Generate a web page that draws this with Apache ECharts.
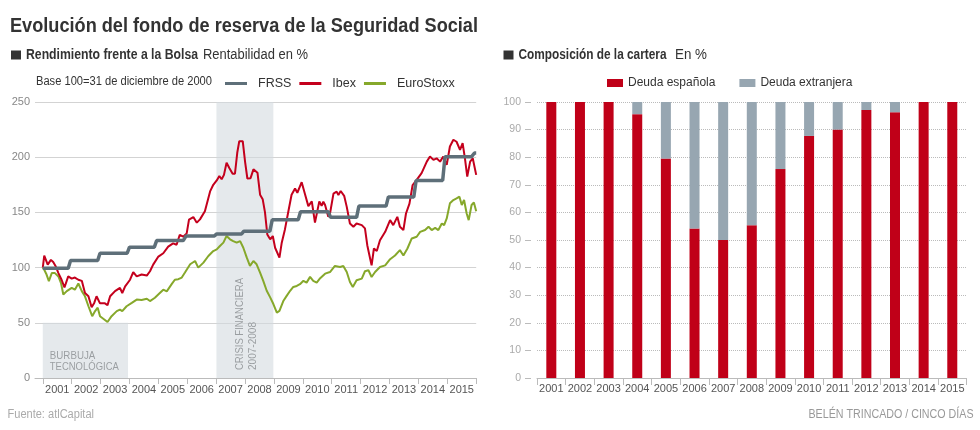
<!DOCTYPE html>
<html>
<head>
<meta charset="utf-8">
<script src="https://cdn.jsdelivr.net/npm/echarts@6/dist/echarts.min.js"></script>
<style>
  html, body { margin: 0; padding: 0; background: #fff; }
  #main { width: 980px; height: 430px; }
</style>
</head>
<body>
<div id="main"></div>
<script>
var FONT = "'Liberation Sans', Arial, sans-serif";

// años del eje x (ambos gráficos)
var years = ['2001','2002','2003','2004','2005','2006','2007','2008','2009','2010','2011','2012','2013','2014','2015'];

// base 100 = 31/12/2000, [año decimal, valor]
var frss = [
  [2001.0,99.5],[2001.88,99.5],[2001.96,106.5],[2002.9,106.5],[2002.98,113],[2003.92,113],
  [2004.0,118.5],[2004.86,118.5],[2004.94,124.5],[2005.86,124.5],[2005.96,128.7],[2006.94,128.7],
  [2007.02,130.5],[2007.88,130.5],[2007.96,133],[2008.86,133],[2008.94,143.3],[2009.84,143.3],
  [2009.92,150.6],[2010.88,150.6],[2010.96,145.5],[2011.86,145.5],[2011.94,155.7],[2012.88,155.7],
  [2012.96,164],[2013.84,164],[2013.92,179],[2014.84,179],[2014.92,200.5],[2015.84,200.5],
  [2015.94,203.8],[2016.0,203.8]
];

var ibex = [
  [2001.0,100],[2001.05,110.8],[2001.17,102.7],[2001.28,107],[2001.36,105],[2001.45,101],
  [2001.54,95],[2001.65,89],[2001.75,82],[2001.88,92],[2002.0,90],[2002.11,91],[2002.23,89],
  [2002.35,88],[2002.46,77],[2002.58,74],[2002.69,64],[2002.78,68],[2002.86,74],[2002.98,67.6],
  [2003.15,67.6],[2003.24,66],[2003.33,74],[2003.5,78.7],[2003.67,81.7],[2003.75,77],[2003.85,83],
  [2004.02,89],[2004.13,96],[2004.25,92],[2004.42,93.7],[2004.6,92.8],[2004.71,96.7],[2004.82,102.7],
  [2005.0,110],[2005.17,113],[2005.34,119],[2005.51,122],[2005.63,120.7],[2005.74,129.7],
  [2005.86,128],[2005.98,131],[2006.06,143.5],[2006.21,145.8],[2006.33,140.7],[2006.44,143.7],
  [2006.61,151],[2006.79,169],[2006.9,175],[2007.02,179],[2007.11,183],[2007.19,180],[2007.27,184],
  [2007.36,195],[2007.46,190],[2007.57,185],[2007.65,185],[2007.73,204],[2007.8,214.5],
  [2007.92,214.5],[2008.0,196],[2008.08,180.7],[2008.19,181],[2008.29,189],[2008.43,186],
  [2008.52,166],[2008.61,162],[2008.69,150],[2008.77,130],[2008.87,125.6],[2008.96,128.6],
  [2009.04,118],[2009.19,109],[2009.27,122.6],[2009.38,134.6],[2009.5,151],[2009.61,166],
  [2009.73,171.7],[2009.81,167.8],[2009.96,177.4],[2010.08,166],[2010.19,155.7],[2010.31,160],
  [2010.42,140.7],[2010.57,160],[2010.65,156],[2010.71,159.7],[2010.77,156.7],[2010.88,146],
  [2010.94,149],[2011.06,167],[2011.17,168.8],[2011.23,165.8],[2011.31,169.4],[2011.43,165],
  [2011.52,155],[2011.63,140],[2011.75,137],[2011.86,140],[2012.04,138.5],[2012.15,135.5],
  [2012.23,120.3],[2012.33,108],[2012.38,102],[2012.46,117.3],[2012.56,115],[2012.67,124.8],
  [2012.85,132.4],[2013.02,143],[2013.13,138.5],[2013.27,146],[2013.36,137],[2013.48,134],
  [2013.57,149],[2013.69,158],[2013.8,174.8],[2013.94,179.4],[2014.11,185.5],[2014.29,196],
  [2014.4,200.6],[2014.52,197.6],[2014.63,199],[2014.75,196],[2014.86,200.6],[2014.98,193],
  [2015.09,209.7],[2015.21,215.8],[2015.32,214],[2015.44,206.7],[2015.53,212.7],[2015.61,199],
  [2015.69,182.4],[2015.79,196],[2015.88,199],[2016.0,184]
];

var stoxx = [
  [2001.0,100],[2001.05,98],[2001.13,93.7],[2001.21,87.7],[2001.31,95],[2001.42,95],[2001.54,92],
  [2001.63,86],[2001.71,75.7],[2001.83,78.7],[2002.0,81.7],[2002.11,80],[2002.23,85.6],
  [2002.35,78.7],[2002.46,74],[2002.58,65],[2002.71,56],[2002.81,60.6],[2002.9,63.7],[2002.98,56],
  [2003.15,52.6],[2003.24,50.7],[2003.38,56],[2003.56,60.6],[2003.67,62],[2003.75,60.6],
  [2003.9,65],[2004.08,68],[2004.25,71],[2004.42,70.6],[2004.6,71.8],[2004.71,69.7],[2004.88,72.7],
  [2005.05,77],[2005.17,80],[2005.29,78.5],[2005.46,85],[2005.57,89],[2005.69,89.5],[2005.81,91],
  [2005.92,95.5],[2006.1,103],[2006.27,106],[2006.38,100],[2006.56,104.5],[2006.73,110.5],
  [2006.9,115],[2007.02,116.5],[2007.13,119.6],[2007.25,122.6],[2007.36,128.6],[2007.48,125.6],
  [2007.59,124],[2007.71,122.6],[2007.83,124],[2007.94,118],[2008.06,109],[2008.17,101.5],
  [2008.29,106],[2008.4,103],[2008.52,95.5],[2008.63,88],[2008.75,79],[2008.87,73],[2008.98,67],
  [2009.1,59.3],[2009.19,60.8],[2009.33,70],[2009.44,74.4],[2009.56,79],[2009.67,82.5],
  [2009.79,83.4],[2009.9,85],[2010.02,88],[2010.13,86.4],[2010.25,91.6],[2010.36,88],
  [2010.48,86.4],[2010.6,90.4],[2010.77,94.5],[2010.94,96],[2011.11,101.5],[2011.29,100.6],
  [2011.4,101.5],[2011.52,96],[2011.63,87],[2011.73,82.4],[2011.86,88.5],[2012.04,90],
  [2012.15,96.7],[2012.27,97.6],[2012.38,91.5],[2012.5,96],[2012.67,100.6],[2012.85,102],
  [2013.02,107.6],[2013.19,111],[2013.36,115.8],[2013.48,111],[2013.62,117.3],[2013.77,126.4],
  [2013.94,127.9],[2014.06,132.4],[2014.23,134],[2014.35,137],[2014.46,134],[2014.58,136],
  [2014.69,134],[2014.81,140],[2014.89,138.5],[2014.98,144.5],[2015.09,158.2],[2015.21,161.2],
  [2015.32,162.7],[2015.42,164.2],[2015.5,156.7],[2015.58,161.2],[2015.67,149],[2015.74,143],
  [2015.84,156.7],[2015.92,159],[2016.0,151]
];

// composicion de la cartera, en %
var deudaEsp = [100,100,100,95.6,79.5,54.2,50,55.3,75.7,87.7,90,97.1,96.3,100,100];
var deudaExt = [0,0,0,4.4,20.5,45.8,50,44.7,24.3,12.3,10,2.9,3.7,0,0];

var yTicksLeft = [0, 250, 50];
var yTicksRight = [0, 100, 10];

// texto estrecho: se mide y se comprime a lo ancho (la fuente original es condensada)
var ctx = document.createElement('canvas').getContext('2d');
function narrow(text, x, y, width, size, weight, color, rot) {
  ctx.font = weight + ' ' + size + 'px ' + FONT;
  var w = ctx.measureText(text).width;
  return {
    type: 'text', x: x, y: y, scaleX: width / w, rotation: rot || 0, silent: true,
    style: {
      text: text, fontSize: size, fontWeight: weight, fontFamily: FONT, fill: color,
      textAlign: 'left', textVerticalAlign: 'middle'
    }
  };
}

var myChart = echarts.init(document.getElementById('main'));

var option = {
  animation: false,
  textStyle: { fontFamily: FONT },
  legend: [
    {
      data: ['FRSS', 'Ibex', 'EuroStoxx'],
      left: 220, top: 72,
      icon: 'rect', itemWidth: 22, itemHeight: 3, itemGap: 8,
      selectedMode: false,
      textStyle: { fontSize: 12.5, color: '#333', padding: [0, 0, 0, 6], fontFamily: FONT }
    },
    {
      data: ['Deuda española', 'Deuda extranjera'],
      left: 602, top: 72,
      icon: 'rect', itemWidth: 16, itemHeight: 8, itemGap: 24,
      selectedMode: false,
      textStyle: { fontSize: 12, color: '#333', fontFamily: FONT }
    }
  ],
  grid: [
    { left: 35, right: 503.8, top: 102, bottom: 52 },
    { left: 42.8, right: 503.8, top: 102, bottom: 52 },
    { left: 537, right: 13.4, top: 102, bottom: 52 }
  ],
  xAxis: [
    {
      gridIndex: 0, type: 'value', min: 2000.73, max: 2016,
      axisLine: { show: true, lineStyle: { color: '#bbb' } },
      axisTick: { show: false }, axisLabel: { show: false }, splitLine: { show: false }
    },
    {
      gridIndex: 1, type: 'category', data: years,
      axisLine: { show: false },
      axisTick: { show: true, length: 6, lineStyle: { color: '#bbb' } },
      axisLabel: { color: '#555', fontSize: 11, margin: 6, interval: 0, fontFamily: FONT }
    },
    {
      gridIndex: 2, type: 'category', data: years,
      axisLine: { lineStyle: { color: '#bbb' } },
      axisTick: { show: true, length: 7, lineStyle: { color: '#bbb' } },
      axisLabel: { color: '#555', fontSize: 11, margin: 5, interval: 0, fontFamily: FONT }
    }
  ],
  yAxis: [
    {
      gridIndex: 0, type: 'value', min: yTicksLeft[0], max: yTicksLeft[1], interval: yTicksLeft[2],
      axisLine: { show: false }, axisTick: { show: false },
      axisLabel: { color: '#888', fontSize: 11, margin: 5, fontFamily: FONT },
      splitLine: { lineStyle: { color: '#d3d3d3' } }
    },
    { gridIndex: 1, type: 'value', min: 0, max: 250, show: false },
    {
      gridIndex: 2, type: 'value', min: yTicksRight[0], max: yTicksRight[1], interval: yTicksRight[2],
      offset: 6,
      axisLine: { show: false },
      axisTick: { show: true, length: 6, lineStyle: { color: '#bbb' } },
      axisLabel: { color: '#aaa', fontSize: 10.5, margin: 10, fontFamily: FONT },
      splitLine: { lineStyle: { color: '#bbb', type: 'dotted' } }
    }
  ],
  series: [
    {
      name: 'EuroStoxx', type: 'line', xAxisIndex: 0, yAxisIndex: 0,
      data: stoxx, symbol: 'none', z: 3,
      itemStyle: { color: '#86a82b' },
      lineStyle: { color: '#86a82b', width: 2 },
      markArea: {
        silent: true,
        itemStyle: { color: 'rgba(212,219,224,0.6)' },
        label: { show: false },
        data: [
          [{ coord: [2001.0, 50] }, { coord: [2003.95, 0] }],
          [{ coord: [2007.01, 250] }, { coord: [2008.98, 0] }]
        ]
      }
    },
    {
      name: 'Ibex', type: 'line', xAxisIndex: 0, yAxisIndex: 0,
      data: ibex, symbol: 'none', z: 4,
      itemStyle: { color: '#c4001d' },
      lineStyle: { color: '#c4001d', width: 2 }
    },
    {
      name: 'FRSS', type: 'line', xAxisIndex: 0, yAxisIndex: 0,
      data: frss, symbol: 'none', z: 5,
      itemStyle: { color: '#5e6f79' },
      lineStyle: { color: '#5e6f79', width: 3.5 }
    },
    {
      name: 'Deuda española', type: 'bar', stack: 'cartera', xAxisIndex: 2, yAxisIndex: 2,
      data: deudaEsp, barWidth: 10,
      itemStyle: { color: '#c00018' }
    },
    {
      name: 'Deuda extranjera', type: 'bar', stack: 'cartera', xAxisIndex: 2, yAxisIndex: 2,
      data: deudaExt, barWidth: 10,
      itemStyle: { color: '#97a6b1' }
    }
  ]
};

myChart.setOption(option);

// títulos, notas y etiquetas de las zonas sombreadas
var pB = myChart.convertToPixel({ gridIndex: 0 }, [2001.0, 0]);
var pC = myChart.convertToPixel({ gridIndex: 0 }, [2007.01, 0]);
myChart.setOption({
  graphic: [
    narrow('Evolución del fondo de reserva de la Seguridad Social', 10, 26, 468, 20, 'bold', '#333'),
    { type: 'rect', shape: { x: 11, y: 50.5, width: 10, height: 9 }, style: { fill: '#333' }, silent: true },
    narrow('Rendimiento frente a la Bolsa', 26, 55, 172, 14, 'bold', '#333'),
    narrow('Rentabilidad en %', 203, 55, 105, 14, 'normal', '#333'),
    { type: 'rect', shape: { x: 503.5, y: 50.5, width: 10, height: 9 }, style: { fill: '#333' }, silent: true },
    narrow('Composición de la cartera', 518.5, 55, 148, 14, 'bold', '#333'),
    narrow('En %', 675, 55, 32, 14, 'normal', '#333'),
    narrow('Base 100=31 de diciembre de 2000', 36, 82, 176, 12.5, 'normal', '#333'),
    narrow('Fuente: atlCapital', 7.5, 415, 86.5, 12, 'normal', '#aaa'),
    narrow('BELÉN TRINCADO / CINCO DÍAS', 808.5, 415, 165, 12, 'normal', '#999'),
    narrow('BURBUJA', pB[0] + 7, pB[1] - 22.5, 45.5, 11, 'normal', '#444'),
    narrow('TECNOLÓGICA', pB[0] + 7, pB[1] - 11, 69, 11, 'normal', '#444'),
    narrow('CRISIS FINANCIERA', pC[0] + 23.5, pC[1] - 8, 92, 11, 'normal', '#444', Math.PI / 2),
    narrow('2007-2008', pC[0] + 36.5, pC[1] - 8, 48, 11, 'normal', '#444', Math.PI / 2)
  ]
});
</script>
</body>
</html>
